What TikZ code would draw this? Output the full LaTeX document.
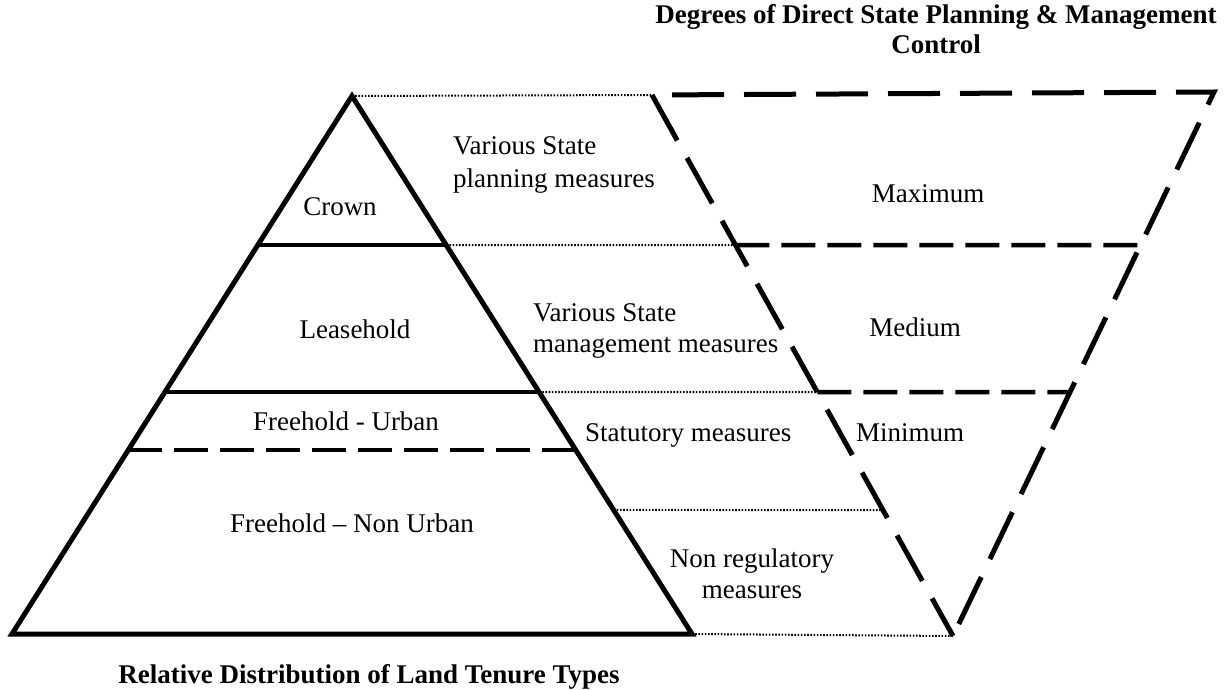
\documentclass[tikz,border=0pt]{standalone}
\usepackage{fontspec}
\setmainfont{Liberation Serif}
\usetikzlibrary{calc}
\begin{document}
\begin{tikzpicture}[x=1pt,y=-1pt,
  edge/.style={line width=5pt, line join=miter},
  divider/.style={line width=4pt},
  bigdash/.style={line width=5pt, dash pattern=on 52pt off 20pt},
  middash/.style={line width=4.5pt, dash pattern=on 34pt off 12pt},
  dotline/.style={line width=2pt, dash pattern=on 1.6pt off 1.6pt},
  lbl/.style={font=\fontsize{27}{33}\selectfont, anchor=base, inner sep=0pt},
  ttl/.style={font=\bfseries\fontsize{27}{31}\selectfont, anchor=base, inner sep=0pt}]
\useasboundingbox (0,0) rectangle (1229,690);

% pyramid of tenure types
\coordinate (apex) at (352,96);
\coordinate (bl) at (12,634);
\coordinate (br) at (692,634);
% inverted triangle of state control
\coordinate (tl) at (652,95);
\coordinate (tr) at (1214,92);
\coordinate (bot) at (953,636);

% band boundaries on the pyramid sides
\coordinate (p1l) at ($(apex)!0.277!(bl)$);
\coordinate (p1r) at ($(apex)!0.277!(br)$);
\coordinate (p2l) at ($(apex)!0.5502!(bl)$);
\coordinate (p2r) at ($(apex)!0.5502!(br)$);
\coordinate (p3l) at ($(apex)!0.658!(bl)$);
\coordinate (p3r) at ($(apex)!0.658!(br)$);
\coordinate (p4r) at ($(apex)!0.7695!(br)$);
% band boundaries on the inverted triangle sides
\coordinate (q1l) at ($(tl)!0.2773!(bot)$);
\coordinate (q1r) at ($(tr)!0.28125!(bot)$);
\coordinate (q2l) at ($(tl)!0.549!(bot)$);
\coordinate (q2r) at ($(tr)!0.5515!(bot)$);
\coordinate (q4l) at ($(tl)!0.7671!(bot)$);

% dotted links between the two figures
\draw[dotline] (apex) -- (tl);
\draw[dotline] (p1r) -- (q1l);
\draw[dotline] (p2r) -- (q2l);
\draw[dotline] (p4r) -- (q4l);
\draw[dotline] (br) -- (bot);

% pyramid
\draw[divider] (p1l) -- (p1r);
\draw[divider] (p2l) -- (p2r);
\draw[middash] (p3l) -- (p3r);
\draw[edge] (apex) -- (bl) -- (br) -- cycle;

% inverted triangle
\draw[middash] (q1l) -- (q1r);
\draw[middash] (q2l) -- (q2r);
\draw[bigdash, dash phase=52pt] (tl) -- (tr) -- (bot);
\draw[bigdash] (tl) -- (bot);

% tenure labels
\node[lbl] (crown) at (340,215) {Crown};
\node[lbl] (lease) at (355,338) {Leasehold};
\node[lbl] (furban) at (346,430) {Freehold - Urban};
\node[lbl] (fnonurban) at (352,532) {Freehold – Non Urban};

% measure labels
\node[lbl, anchor=base west] (plan1) at (453,154) {Various State};
\node[lbl, anchor=base west] (plan2) at (453,187) {planning measures};
\node[lbl, anchor=base west] (mgmt1) at (533,321) {Various State};
\node[lbl, anchor=base west] (mgmt2) at (533,352) {management measures};
\node[lbl, anchor=base west] (stat) at (585,441) {Statutory measures};
\node[lbl] (nonreg1) at (752,567) {Non regulatory};
\node[lbl] (nonreg2) at (752,598) {measures};

% control levels
\node[lbl] (max) at (928,202) {Maximum};
\node[lbl] (med) at (915,336) {Medium};
\node[lbl] (min) at (910,441) {Minimum};

% titles
\node[ttl] (ctitle1) at (936,24) {Degrees of Direct State Planning \& Management};
\node[ttl] (ctitle2) at (936,54) {Control};
\node[ttl] (ttitle) at (369,683) {Relative Distribution of Land Tenure Types};
\end{tikzpicture}
\end{document}
